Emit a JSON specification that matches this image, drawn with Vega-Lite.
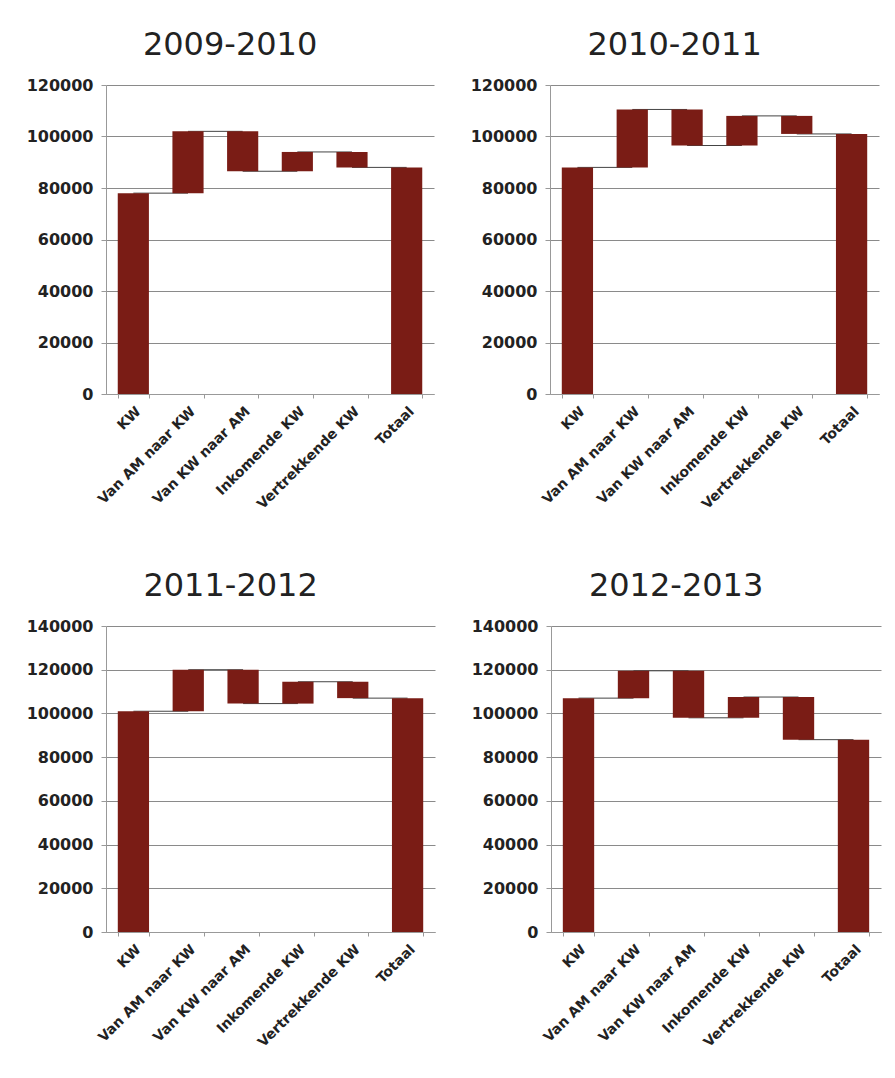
{
  "$schema": "https://vega.github.io/schema/vega-lite/v6.json",
  "padding": {"left": 26, "top": 29, "right": 5, "bottom": 5},
  "background": "white",
  "datasets": {
    "w": [
      {"p": "2009-2010", "cat": "KW", "start": 0, "end": 78000, "next": "Van AM naar KW"},
      {"p": "2009-2010", "cat": "Van AM naar KW", "start": 78000, "end": 102000, "next": "Van KW naar AM"},
      {"p": "2009-2010", "cat": "Van KW naar AM", "start": 102000, "end": 86500, "next": "Inkomende KW"},
      {"p": "2009-2010", "cat": "Inkomende KW", "start": 86500, "end": 94000, "next": "Vertrekkende KW"},
      {"p": "2009-2010", "cat": "Vertrekkende KW", "start": 94000, "end": 88000, "next": "Totaal"},
      {"p": "2009-2010", "cat": "Totaal", "start": 0, "end": 88000, "next": null},
      {"p": "2010-2011", "cat": "KW", "start": 0, "end": 88000, "next": "Van AM naar KW"},
      {"p": "2010-2011", "cat": "Van AM naar KW", "start": 88000, "end": 110500, "next": "Van KW naar AM"},
      {"p": "2010-2011", "cat": "Van KW naar AM", "start": 110500, "end": 96500, "next": "Inkomende KW"},
      {"p": "2010-2011", "cat": "Inkomende KW", "start": 96500, "end": 108000, "next": "Vertrekkende KW"},
      {"p": "2010-2011", "cat": "Vertrekkende KW", "start": 108000, "end": 101000, "next": "Totaal"},
      {"p": "2010-2011", "cat": "Totaal", "start": 0, "end": 101000, "next": null},
      {"p": "2011-2012", "cat": "KW", "start": 0, "end": 101000, "next": "Van AM naar KW"},
      {"p": "2011-2012", "cat": "Van AM naar KW", "start": 101000, "end": 120000, "next": "Van KW naar AM"},
      {"p": "2011-2012", "cat": "Van KW naar AM", "start": 120000, "end": 104500, "next": "Inkomende KW"},
      {"p": "2011-2012", "cat": "Inkomende KW", "start": 104500, "end": 114500, "next": "Vertrekkende KW"},
      {"p": "2011-2012", "cat": "Vertrekkende KW", "start": 114500, "end": 107000, "next": "Totaal"},
      {"p": "2011-2012", "cat": "Totaal", "start": 0, "end": 107000, "next": null},
      {"p": "2012-2013", "cat": "KW", "start": 0, "end": 107000, "next": "Van AM naar KW"},
      {"p": "2012-2013", "cat": "Van AM naar KW", "start": 107000, "end": 119500, "next": "Van KW naar AM"},
      {"p": "2012-2013", "cat": "Van KW naar AM", "start": 119500, "end": 98000, "next": "Inkomende KW"},
      {"p": "2012-2013", "cat": "Inkomende KW", "start": 98000, "end": 107500, "next": "Vertrekkende KW"},
      {"p": "2012-2013", "cat": "Vertrekkende KW", "start": 107500, "end": 88000, "next": "Totaal"},
      {"p": "2012-2013", "cat": "Totaal", "start": 0, "end": 88000, "next": null}
    ]
  },
  "config": {
    "view": {"stroke": null},
    "font": "DejaVu Sans",
    "title": {"fontSize": 32, "fontWeight": "normal", "color": "#222222", "anchor": "middle", "frame": "bounds", "offset": 15, "font": "DejaVu Sans"},
    "axis": {"labelFont": "DejaVu Sans", "labelColor": "#222222", "domainColor": "#999999", "tickColor": "#999999", "title": null, "labelFontWeight": "bold"}
  },
  "spacing": 58,
  "vconcat": [
    {
      "spacing": 36,
      "hconcat": [
        {
          "width": 328, "height": 309,
          "title": "2009-2010",
          "data": {"name": "w"},
          "transform": [{"filter": "datum.p == '2009-2010'"}],
          "encoding": {
            "x": {"field": "cat", "type": "nominal", "scale": {"domain": ["KW", "Van AM naar KW", "Van KW naar AM", "Inkomende KW", "Vertrekkende KW", "Totaal"], "paddingInner": 0.43, "paddingOuter": 0.215},
              "axis": {"labelAngle": -45, "labelFontSize": 14, "tickBand": "extent", "tickSize": 4, "labelPadding": 6, "grid": false}}
          },
          "layer": [
            {"transform": [{"filter": "datum.next != null"}], "mark": {"type": "rule", "color": "#444444", "strokeWidth": 1}, "encoding": {"x2": {"field": "next"}, "y": {"field": "end", "type": "quantitative"}}},
            {"mark": {"type": "bar", "color": "#7a1c15"}, "encoding": {
              "y": {"field": "start", "type": "quantitative", "scale": {"domain": [0, 120000], "nice": false},
                "axis": {"values": [0, 20000, 40000, 60000, 80000, 100000, 120000], "format": "d", "labelFontSize": 16, "gridColor": "#8a8a8a", "tickSize": 5, "labelPadding": 8}},
              "y2": {"field": "end"}}}
          ]
        },
        {
          "width": 329, "height": 309,
          "title": "2010-2011",
          "data": {"name": "w"},
          "transform": [{"filter": "datum.p == '2010-2011'"}],
          "encoding": {
            "x": {"field": "cat", "type": "nominal", "scale": {"domain": ["KW", "Van AM naar KW", "Van KW naar AM", "Inkomende KW", "Vertrekkende KW", "Totaal"], "paddingInner": 0.43, "paddingOuter": 0.215},
              "axis": {"labelAngle": -45, "labelFontSize": 14, "tickBand": "extent", "tickSize": 4, "labelPadding": 6, "grid": false}}
          },
          "layer": [
            {"transform": [{"filter": "datum.next != null"}], "mark": {"type": "rule", "color": "#444444", "strokeWidth": 1}, "encoding": {"x2": {"field": "next"}, "y": {"field": "end", "type": "quantitative"}}},
            {"mark": {"type": "bar", "color": "#7a1c15"}, "encoding": {
              "y": {"field": "start", "type": "quantitative", "scale": {"domain": [0, 120000], "nice": false},
                "axis": {"values": [0, 20000, 40000, 60000, 80000, 100000, 120000], "format": "d", "labelFontSize": 16, "gridColor": "#8a8a8a", "tickSize": 5, "labelPadding": 8}},
              "y2": {"field": "end"}}}
          ]
        }
      ]
    },
    {
      "spacing": 36,
      "hconcat": [
        {
          "width": 329, "height": 306,
          "title": "2011-2012",
          "data": {"name": "w"},
          "transform": [{"filter": "datum.p == '2011-2012'"}],
          "encoding": {
            "x": {"field": "cat", "type": "nominal", "scale": {"domain": ["KW", "Van AM naar KW", "Van KW naar AM", "Inkomende KW", "Vertrekkende KW", "Totaal"], "paddingInner": 0.43, "paddingOuter": 0.215},
              "axis": {"labelAngle": -45, "labelFontSize": 14, "tickBand": "extent", "tickSize": 4, "labelPadding": 6, "grid": false}}
          },
          "layer": [
            {"transform": [{"filter": "datum.next != null"}], "mark": {"type": "rule", "color": "#444444", "strokeWidth": 1}, "encoding": {"x2": {"field": "next"}, "y": {"field": "end", "type": "quantitative"}}},
            {"mark": {"type": "bar", "color": "#7a1c15"}, "encoding": {
              "y": {"field": "start", "type": "quantitative", "scale": {"domain": [0, 140000], "nice": false},
                "axis": {"values": [0, 20000, 40000, 60000, 80000, 100000, 120000, 140000], "format": "d", "labelFontSize": 16, "gridColor": "#8a8a8a", "tickSize": 5, "labelPadding": 8}},
              "y2": {"field": "end"}}}
          ]
        },
        {
          "width": 330, "height": 306,
          "title": "2012-2013",
          "data": {"name": "w"},
          "transform": [{"filter": "datum.p == '2012-2013'"}],
          "encoding": {
            "x": {"field": "cat", "type": "nominal", "scale": {"domain": ["KW", "Van AM naar KW", "Van KW naar AM", "Inkomende KW", "Vertrekkende KW", "Totaal"], "paddingInner": 0.43, "paddingOuter": 0.215},
              "axis": {"labelAngle": -45, "labelFontSize": 14, "tickBand": "extent", "tickSize": 4, "labelPadding": 6, "grid": false}}
          },
          "layer": [
            {"transform": [{"filter": "datum.next != null"}], "mark": {"type": "rule", "color": "#444444", "strokeWidth": 1}, "encoding": {"x2": {"field": "next"}, "y": {"field": "end", "type": "quantitative"}}},
            {"mark": {"type": "bar", "color": "#7a1c15"}, "encoding": {
              "y": {"field": "start", "type": "quantitative", "scale": {"domain": [0, 140000], "nice": false},
                "axis": {"values": [0, 20000, 40000, 60000, 80000, 100000, 120000, 140000], "format": "d", "labelFontSize": 16, "gridColor": "#8a8a8a", "tickSize": 5, "labelPadding": 8}},
              "y2": {"field": "end"}}}
          ]
        }
      ]
    }
  ]
}
